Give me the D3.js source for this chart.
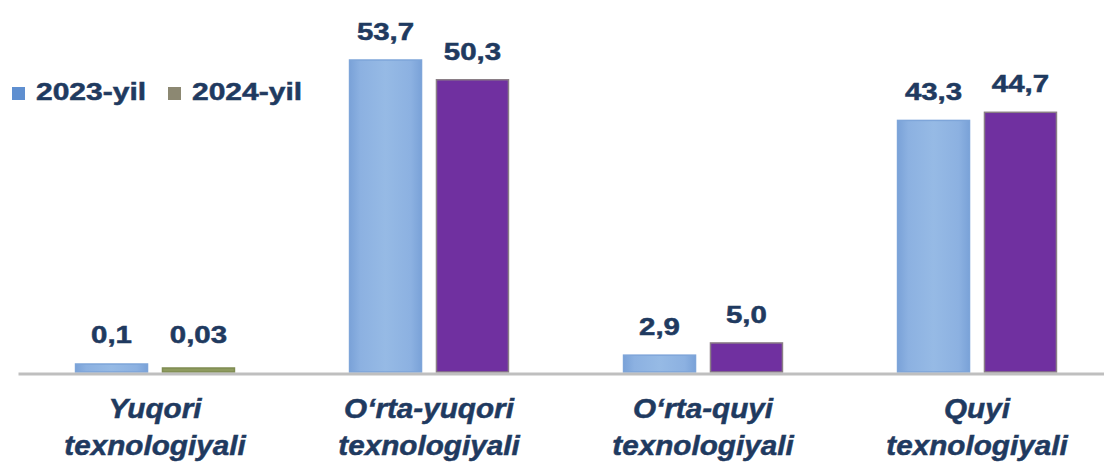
<!DOCTYPE html>
<html>
<head>
<meta charset="utf-8">
<script src="https://cdn.jsdelivr.net/npm/d3@7"></script>
<style>
  html, body { margin: 0; padding: 0; background: #fff; }
  svg { display: block; }
</style>
</head>
<body>
<div id="chart"></div>
<script>
// data
const categories = [
    ["Yuqori", "texnologiyali"],
    ["O\u2018rta-yuqori", "texnologiyali"],
    ["O\u2018rta-quyi", "texnologiyali"],
    ["Quyi", "texnologiyali"]
];
const seriesNames = ["2023-yil", "2024-yil"];
const values2023 = [0.1, 53.7, 2.9, 43.3];
const values2024 = [0.03, 50.3, 5.0, 44.7];

const width = 1104;
const height = 463;
const baseY = 372;
const textColor = "#1F3A60";
const purple = "#7030A0";
// first 2024 bar keeps the olive series colour, others are purple
const fill2024 = ["#8E9B5F", purple, purple, purple];

const svg = d3.select("#chart")
    .append("svg")
    .attr("width", width)
    .attr("height", height);

// gradient for the light blue bars (lighter in the middle)
const defs = svg.append("defs");
const gBlue = defs.append("linearGradient").attr("id", "blueGrad");
gBlue.append("stop").attr("offset", "0%").attr("stop-color", "#7AA2D8");
gBlue.append("stop").attr("offset", "15%").attr("stop-color", "#8CB1E1");
gBlue.append("stop").attr("offset", "50%").attr("stop-color", "#96BAE5");
gBlue.append("stop").attr("offset", "85%").attr("stop-color", "#8CB1E1");
gBlue.append("stop").attr("offset", "100%").attr("stop-color", "#7AA2D8");

const catKeys = categories.map(d => d.join(" "));

const x = d3.scaleBand()
    .domain(catKeys)
    .range([18, 1114])
    .paddingInner(0.42)
    .paddingOuter(0.21);

const xs = d3.scaleBand()
    .domain(seriesNames)
    .range([0, x.bandwidth()])
    .paddingInner(0.172);

const y = d3.scaleLinear()
    .domain([0, 53.7])
    .range([baseY, 60]);

const fmt = v => (v < 0.1 ? d3.format(".2f")(v) : d3.format(".1f")(v)).replace(".", ",");

const rows = [];
catKeys.forEach((c, i) => {
    rows.push({cat: c, s: seriesNames[0], v: values2023[i], fill: "url(#blueGrad)", stroke: "#7EA5D9"});
    rows.push({cat: c, s: seriesNames[1], v: values2024[i], fill: fill2024[i],
        stroke: i === 0 ? "#7F8C52" : "#8A7E86"});
});

// tiny values get a minimum visible height, as in the original
const barTop = d => Math.min(y(d.v), y(0) - (d.v >= 0.1 ? 8 : 4));

svg.append("g")
    .selectAll("rect")
    .data(rows)
    .enter().append("rect")
    .attr("x", d => x(d.cat) + xs(d.s))
    .attr("y", d => barTop(d))
    .attr("width", xs.bandwidth())
    .attr("height", d => y(0) - barTop(d))
    .attr("fill", d => d.fill)
    .attr("stroke", d => d.stroke)
    .attr("stroke-width", 1.5);

// axis line only
const axis = svg.append("g")
    .attr("transform", `translate(0,${baseY + 1.5})`)
    .call(d3.axisBottom(x).tickSize(0).tickFormat(""));
axis.select(".domain").attr("stroke", "#BFBFBF").attr("stroke-width", 3);

// value labels (text is a bit wide in the source, so stretch it)
svg.append("g")
    .selectAll("text")
    .data(rows)
    .enter().append("text")
    .attr("transform", d => {
        const cx = x(d.cat) + xs(d.s) + xs.bandwidth() / 2;
        const ty = Math.min(y(d.v), y(0) - 9) - 20;
        return `translate(${cx},${ty}) scale(1.28,1)`;
    })
    .attr("text-anchor", "middle")
    .style("font-family", "'Liberation Sans', Arial, sans-serif")
    .style("font-weight", "bold")
    .style("font-size", "23px")
    .style("fill", textColor)
    .style("stroke", textColor)
    .style("stroke-width", 0.5)
    .text(d => fmt(d.v));

// category labels
const catLabels = svg.append("g")
    .selectAll("text")
    .data(categories)
    .enter().append("text")
    .attr("transform", (d, i) => `translate(${x(catKeys[i]) + x.bandwidth() / 2},0) scale(1.06,1)`)
    .attr("text-anchor", "middle")
    .style("font-family", "'Liberation Sans', Arial, sans-serif")
    .style("font-weight", "bold")
    .style("font-style", "italic")
    .style("font-size", "28px")
    .style("fill", textColor)
    .style("stroke", textColor)
    .style("stroke-width", 0.5);

catLabels.selectAll("tspan")
    .data(d => d)
    .enter().append("tspan")
    .attr("x", 0)
    .attr("y", (d, i) => 418 + i * 37)
    .text(d => d);

// legend
const legendColors = ["#5F8FD0", "#8C8872"];
const legendX = [12, 168];
const legend = svg.append("g")
    .selectAll("g")
    .data(seriesNames)
    .enter().append("g")
    .attr("transform", (d, i) => `translate(${legendX[i]},0)`);

legend.append("rect")
    .attr("x", 0)
    .attr("y", 87)
    .attr("width", 13)
    .attr("height", 13)
    .attr("fill", (d, i) => legendColors[i]);

legend.append("text")
    .attr("transform", "translate(24,100) scale(1.25,1)")
    .style("font-family", "'Liberation Sans', Arial, sans-serif")
    .style("font-weight", "bold")
    .style("font-size", "24px")
    .style("fill", textColor)
    .style("stroke", textColor)
    .style("stroke-width", 0.5)
    .text(d => d);
</script>
</body>
</html>
